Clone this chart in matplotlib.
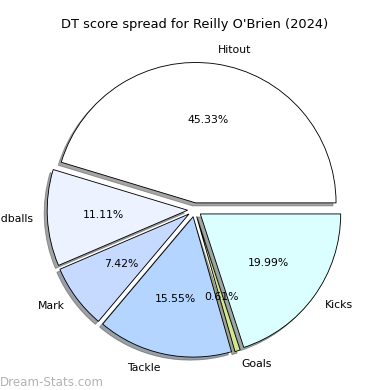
import matplotlib
matplotlib.use("Agg")
import matplotlib.pyplot as plt

# data
labels = ['Hitout', 'Handballs', 'Mark', 'Tackle', 'Goals', 'Kicks']
shares = [45.33, 11.11, 7.42, 15.55, 0.61, 19.99]
colors = ['#ffffff', '#ecf2ff', '#c6d9ff', '#b3d5ff', '#d0e88e', '#dbffff']
explode = [0.05] * len(labels)

fig = plt.figure(figsize=(5, 5), dpi=78)
ax = fig.add_axes([0.049, 0.012, 0.9, 0.9])

ax.pie(shares, labels=labels, colors=colors, explode=explode,
       autopct='%1.2f%%', startangle=0, shadow=True,
       wedgeprops={'edgecolor': 'black', 'linewidth': 0.8})
ax.set_title("DT score spread for Reilly O'Brien (2024)", fontsize=12)

fig.text(0.0, 0.01, 'Dream-Stats.com', fontsize=11, color='grey', alpha=0.6)

fig.savefig('out.png', dpi=78)
